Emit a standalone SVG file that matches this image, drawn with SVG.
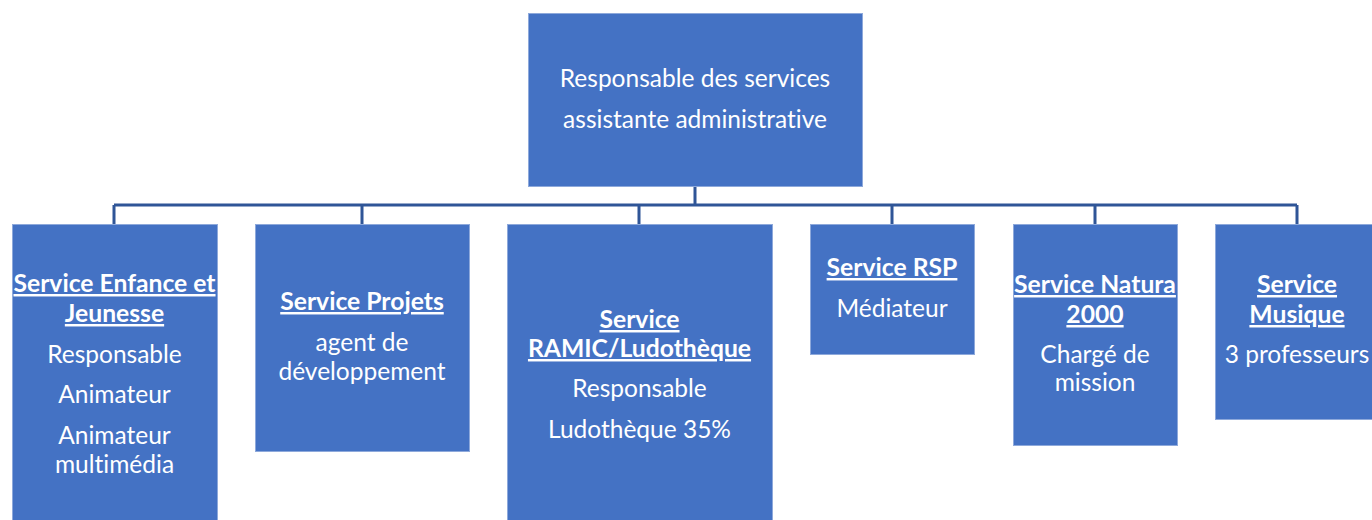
<svg xmlns="http://www.w3.org/2000/svg" width="1372" height="520" viewBox="0 0 1372 520">
<style>
.box{fill:#4472C4;stroke:#8EA9DB;stroke-width:1}
.t{font-family:Lato,"Open Sans","Liberation Sans",sans-serif;font-size:24.5px;fill:#ffffff;text-anchor:middle;font-variant-ligatures:none}
.b{font-weight:bold;font-size:24.7px;text-decoration:underline}
.c{fill:none;stroke:#2F5597;stroke-width:3}
</style>
<rect width="1372" height="520" fill="#ffffff"/>
<g id="connectors">
<path class="c" d="M695 186V205M114 205H1297M114 205V224M362 205V224M639 205V224M892 205V224M1095 205V224M1297 205V224"/>
</g>
<g id="top">
<rect class="box" x="528.5" y="13.5" width="334" height="173"/>
<text class="t" x="695" y="87">Responsable des services</text>
<text class="t" x="695" y="128">assistante administrative</text>
</g>
<g id="enfance">
<rect class="box" x="12.5" y="224.5" width="205" height="310"/>
<text class="t b" x="114.5" y="292">Service Enfance et</text>
<text class="t b" x="114.5" y="322">Jeunesse</text>
<text class="t" x="114.5" y="363">Responsable</text>
<text class="t" x="114.5" y="403">Animateur</text>
<text class="t" x="114.5" y="444">Animateur</text>
<text class="t" x="114.5" y="473">multimédia</text>
</g>
<g id="projets">
<rect class="box" x="255.5" y="224.5" width="214" height="227"/>
<text class="t b" x="362" y="310">Service Projets</text>
<text class="t" x="362" y="351">agent de</text>
<text class="t" x="362" y="380">développement</text>
</g>
<g id="ramic">
<rect class="box" x="507.5" y="224.5" width="265" height="310"/>
<text class="t b" x="639.5" y="328">Service</text>
<text class="t b" x="639.5" y="357">RAMIC/Ludothèque</text>
<text class="t" x="639.5" y="397">Responsable</text>
<text class="t" x="639.5" y="438">Ludothèque 35%</text>
</g>
<g id="rsp">
<rect class="box" x="810.5" y="224.5" width="164" height="130"/>
<text class="t b" x="892" y="276">Service RSP</text>
<text class="t" x="892" y="317">Médiateur</text>
</g>
<g id="natura">
<rect class="box" x="1013.5" y="224.5" width="164" height="221"/>
<text class="t b" x="1095" y="293">Service Natura</text>
<text class="t b" x="1095" y="323">2000</text>
<text class="t" x="1095" y="363">Chargé de</text>
<text class="t" x="1095" y="391">mission</text>
</g>
<g id="musique">
<rect class="box" x="1215.5" y="224.5" width="170" height="195"/>
<text class="t b" x="1297" y="293">Service</text>
<text class="t b" x="1297" y="323">Musique</text>
<text class="t" x="1297" y="363">3 professeurs</text>
</g>
</svg>
